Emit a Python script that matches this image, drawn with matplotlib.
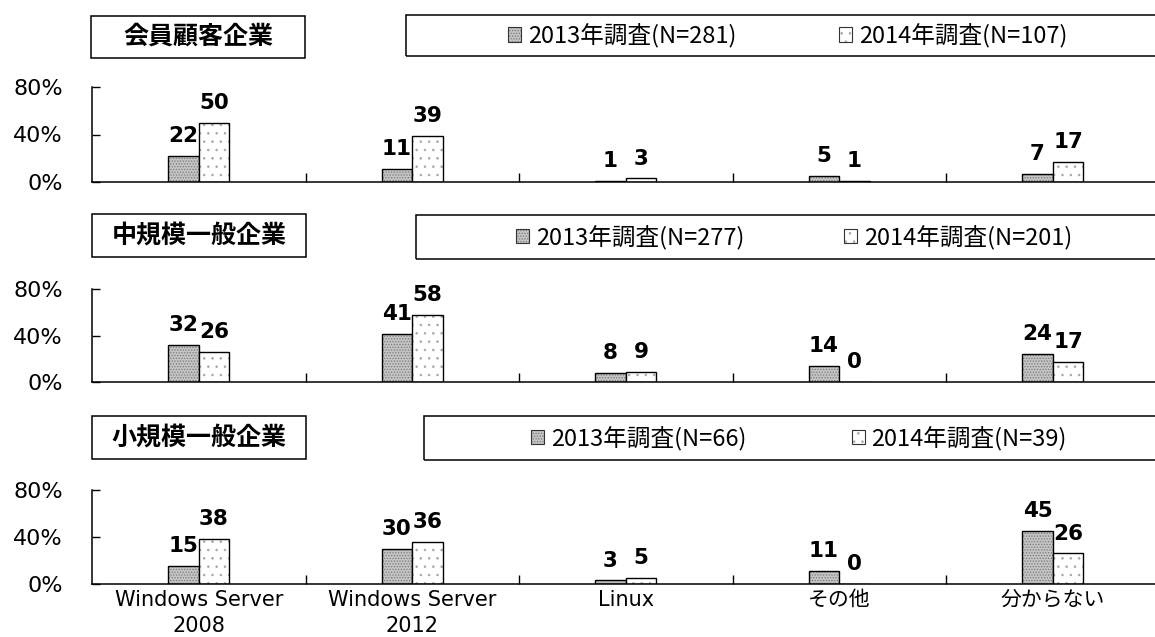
import numpy as np
import matplotlib
matplotlib.use("Agg")
import matplotlib.pyplot as plt
from matplotlib.patches import Rectangle, Patch
from matplotlib.legend_handler import HandlerTuple

categories = ["Windows Server\n2008", "Windows Server\n2012", "Linux", "その他", "分からない"]
titles = ["会員顧客企業", "中規模一般企業", "小規模一般企業"]
v2013 = [[22, 11, 1, 5, 7],
         [32, 41, 8, 14, 24],
         [15, 30, 3, 11, 45]]
v2014 = [[50, 39, 3, 1, 17],
         [26, 58, 9, 0, 17],
         [38, 36, 5, 0, 26]]
n2013 = [281, 277, 66]
n2014 = [107, 201, 39]
yticks = [0, 40, 80]

plt.rcParams["font.family"] = ["DejaVu Sans", "Noto Sans CJK JP"]
plt.rcParams["hatch.linewidth"] = 0.6

W, H = 1155, 637
fig = plt.figure(figsize=(W / 100, H / 100), dpi=100)


def fx(px):
    return px / W


def fy(py):
    return 1 - py / H


# layout in pixels: (axis zero, axis top), title box, legend box, legend start, column gap
axis_px = [(182, 87), (382, 289), (584, 490)]
title_box = [(91, 16, 305, 58), (92, 214, 306, 257), (92, 416, 306, 459)]
legend_box = [(406, 15, 56), (416, 215, 259), (424, 416, 460)]
legend_x = [508, 516, 531]
legend_gap = [4.35, 4.2, 4.45]

x = np.arange(len(categories))
bw = 0.143
c13, h13 = "#c4c4c4", "#7a7a7a"
c14, h14 = "white", "#a8a8a8"


def hatched(ax, xs, vals, fc, hc, hatch):
    ax.bar(xs, vals, bw, color=fc, linewidth=0)
    ax.bar(xs, vals, bw, color="none", edgecolor=hc, hatch=hatch, linewidth=0)
    ax.bar(xs, vals, bw, color="none", edgecolor="black", linewidth=1.0)


for i in range(3):
    base, top = axis_px[i]
    ax = fig.add_axes([fx(92), fy(base), 1067.5 / W, (base - top) / H])

    hatched(ax, x - bw / 2, v2013[i], c13, h13, "......")
    hatched(ax, x + bw / 2, v2014[i], c14, h14, "..")

    for xs, vals in [(x - bw / 2, v2013[i]), (x + bw / 2, v2014[i])]:
        for xx, v in zip(xs, vals):
            ax.annotate(str(v), (xx, v), xytext=(0, 10), textcoords="offset points",
                        ha="center", va="baseline", fontsize=15.5, fontweight="bold")

    ax.set_xlim(-0.5, len(categories) - 0.5)
    ax.set_ylim(0, 80)
    ax.set_yticks(yticks)
    ax.set_yticklabels([f"{t}%" for t in yticks])
    ax.tick_params(axis="y", direction="in", length=6, width=1.0, pad=21, labelsize=16)
    ax.set_xticks(x)
    if i == 2:
        ax.set_xticklabels(categories, fontsize=15, linespacing=1.4)
    else:
        ax.set_xticklabels([])
    ax.tick_params(axis="x", which="major", length=0, pad=4)
    ax.set_xticks(x[:-1] + 0.5, minor=True)
    ax.tick_params(axis="x", which="minor", direction="in", length=6.5, width=1.0)
    for s in ["top", "right"]:
        ax.spines[s].set_visible(False)
    for s in ["left", "bottom"]:
        ax.spines[s].set_linewidth(1.1)

    # title box
    l, t, r, b = title_box[i]
    fig.add_artist(Rectangle((fx(l), fy(b)), (r - l) / W, (b - t) / H,
                             transform=fig.transFigure, fill=False, lw=1.1, ec="black"))
    fig.text(fx((l + r) / 2), fy((t + b) / 2), titles[i], ha="center", va="center",
             fontsize=18, fontweight="bold", family=["Noto Sans CJK JP"])

    # legend box
    l, t, b = legend_box[i]
    fig.add_artist(Rectangle((fx(l), fy(b)), (1175 - l) / W, (b - t) / H,
                             transform=fig.transFigure, fill=False, lw=1.1, ec="black"))
    handles = [
        (Patch(fc=c13, lw=0), Patch(fc="none", ec=h13, hatch="......", lw=0),
         Patch(fc="none", ec="#333333", lw=0.8)),
        (Patch(fc=c14, lw=0), Patch(fc="none", ec=h14, hatch="..", lw=0),
         Patch(fc="none", ec="#333333", lw=0.8)),
    ]
    labels = [f"2013年調査(N={n2013[i]})", f"2014年調査(N={n2014[i]})"]
    fig.legend(handles, labels, loc="center left",
               bbox_to_anchor=(fx(legend_x[i]), fy((t + b) / 2)),
               ncol=2, frameon=False, borderpad=0, borderaxespad=0,
               handlelength=0.55, handleheight=0.55, handletextpad=0.3,
               columnspacing=legend_gap[i],
               prop={"family": ["Noto Sans CJK JP"], "size": 17},
               handler_map={tuple: HandlerTuple(ndivide=1, pad=0)})

fig.savefig("out.png", dpi=100)
